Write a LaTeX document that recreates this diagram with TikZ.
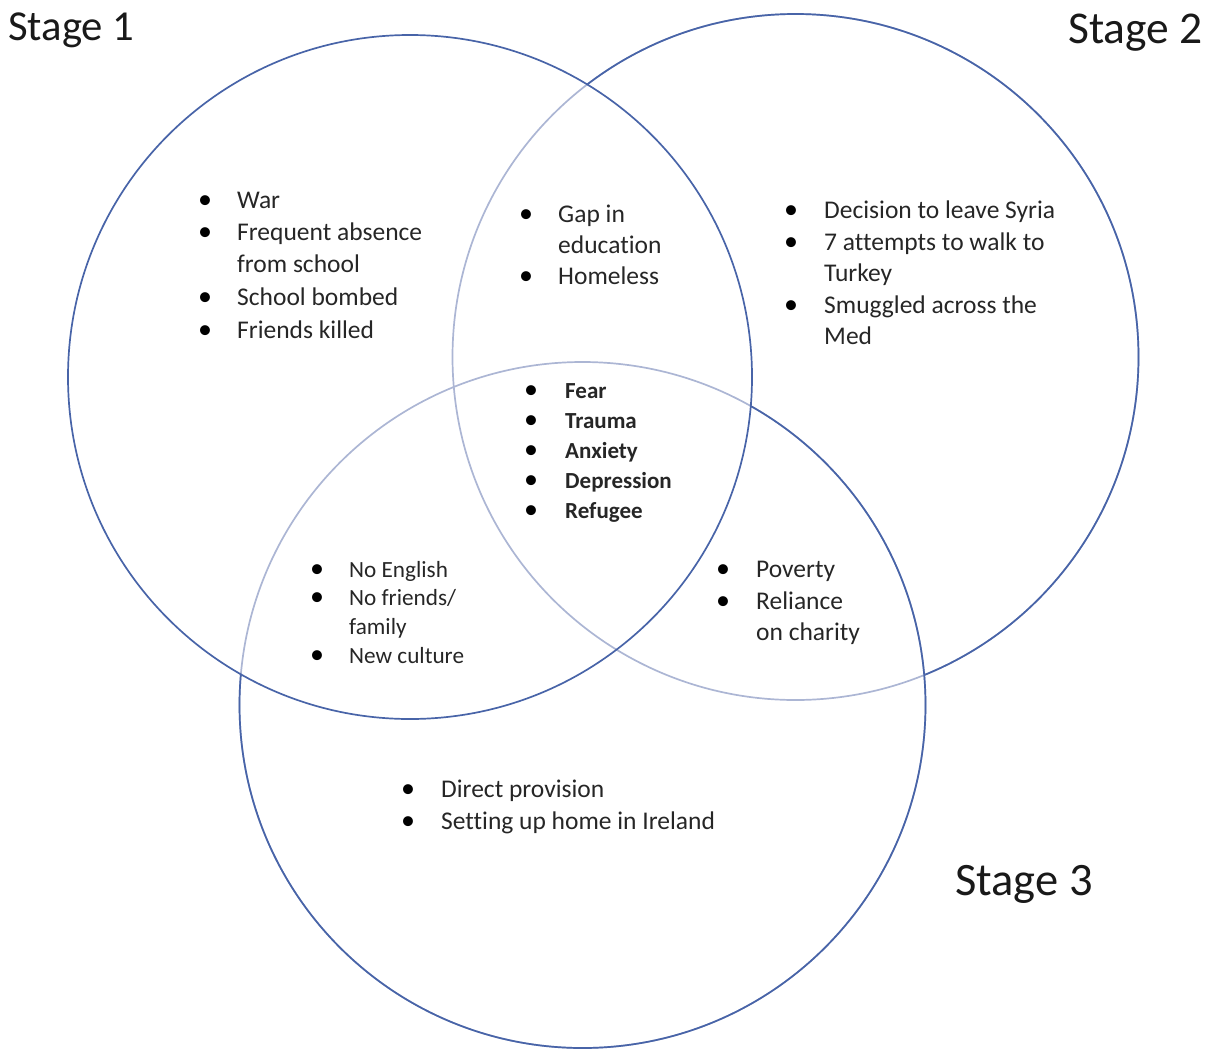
\documentclass[tikz,border=0pt]{standalone}
\usepackage{fontspec}
\setmainfont[Ligatures=NoCommon]{Carlito}
\definecolor{cdark}{RGB}{72,100,168}
\definecolor{clight}{RGB}{172,182,212}
\tikzset{
  ring/.style={line width=1.7pt},
  txt/.style={anchor=base west, inner sep=0pt, font=\fontsize{25.5}{30}\selectfont, text=black!85},
  txts/.style={anchor=base west, inner sep=0pt, font=\fontsize{23.2}{28}\selectfont, text=black!85},
  txtb/.style={anchor=base west, inner sep=0pt, font=\fontsize{23}{28}\selectfont\bfseries, text=black!85},
  bul/.style={anchor=base, inner sep=0pt, font=\fontsize{28}{30}\selectfont},
  stage/.style={anchor=base west, inner sep=0pt, text=black!90}
}
\begin{document}
\begin{tikzpicture}[x=1pt,y=-1pt]
\useasboundingbox (0,0) rectangle (1214,1052);
\coordinate (c1) at (410,377);
\coordinate (c2) at (795.5,357);
\coordinate (c3) at (582.5,705);
% circle 2
\draw[ring, clight] (c2) circle (343pt);
\begin{scope}[even odd rule]
  \clip (-20,-20) rectangle (1234,1072) (c1) circle (342pt);
  \begin{scope}[even odd rule]
    \clip (-20,-20) rectangle (1234,1072) (c3) circle (343pt);
    \draw[ring, cdark] (c2) circle (343pt);
  \end{scope}
\end{scope}
% circle 3
\draw[ring, clight] (c3) circle (343pt);
\begin{scope}[even odd rule]
  \clip (-20,-20) rectangle (1234,1072) (c1) circle (342pt);
  \draw[ring, cdark] (c3) circle (343pt);
\end{scope}
% circle 1
\draw[ring, cdark] (c1) circle (342pt);

% stage labels
\node[stage, font=\fontsize{42.7}{48}\selectfont] (s1) at (8,40) {Stage 1};
\node[stage, font=\fontsize{45.5}{50}\selectfont] (s2) at (1068,43) {Stage 2};
\node[stage, font=\fontsize{46.5}{52}\selectfont] (s3) at (955,895) {Stage 3};

% Stage 1 list
\node[bul] (b11) at (205,208) {•};
\node[txt] (t11) at (237,208) {War};
\node[bul] (b12) at (205,240) {•};
\node[txt] (t12) at (237,240) {Frequent absence};
\node[txt] (t12b) at (237,272) {from school};
\node[bul] (b13) at (205,305) {•};
\node[txt] (t13) at (237,305) {School bombed};
\node[bul] (b14) at (205,338) {•};
\node[txt] (t14) at (237,338) {Friends killed};

% 1-2 overlap
\node[bul] (b21) at (526,222) {•};
\node[txt] (t21) at (558,222) {Gap in};
\node[txt] (t21b) at (558,253) {education};
\node[bul] (b22) at (526,284) {•};
\node[txt] (t22) at (558,284) {Homeless};

% Stage 2 list
\node[bul] (b31) at (791,218) {•};
\node[txt] (t31) at (824,218) {Decision to leave Syria};
\node[bul] (b32) at (791,250) {•};
\node[txt] (t32) at (824,250) {7 attempts to walk to};
\node[txt] (t32b) at (824,281) {Turkey};
\node[bul] (b33) at (791,313) {•};
\node[txt] (t33) at (824,313) {Smuggled across the};
\node[txt] (t33b) at (824,344) {Med};

% centre list
\node[bul] (b41) at (531,398) {•};
\node[txtb] (t41) at (565,398) {Fear};
\node[bul] (b42) at (531,428) {•};
\node[txtb] (t42) at (565,428) {Trauma};
\node[bul] (b43) at (531,458) {•};
\node[txtb] (t43) at (565,458) {Anxiety};
\node[bul] (b44) at (531,488) {•};
\node[txtb] (t44) at (565,488) {Depression};
\node[bul] (b45) at (531,518) {•};
\node[txtb] (t45) at (565,518) {Refugee};

% 1-3 overlap
\node[bul] (b51) at (317,577) {•};
\node[txts] (t51) at (349,577) {No English};
\node[bul] (b52) at (317,605) {•};
\node[txts] (t52) at (349,605) {No friends/};
\node[txts] (t52b) at (349,634) {family};
\node[bul] (b53) at (317,663) {•};
\node[txts] (t53) at (349,663) {New culture};

% 2-3 overlap
\node[bul] (b61) at (723,577) {•};
\node[txt] (t61) at (756,577) {Poverty};
\node[bul] (b62) at (723,609) {•};
\node[txt] (t62) at (756,609) {Reliance};
\node[txt] (t62b) at (756,640) {on charity};

% Stage 3 list
\node[bul] (b71) at (408,797) {•};
\node[txt] (t71) at (441,797) {Direct provision};
\node[bul] (b72) at (408,829) {•};
\node[txt] (t72) at (441,829) {Setting up home in Ireland};
\end{tikzpicture}
\end{document}
